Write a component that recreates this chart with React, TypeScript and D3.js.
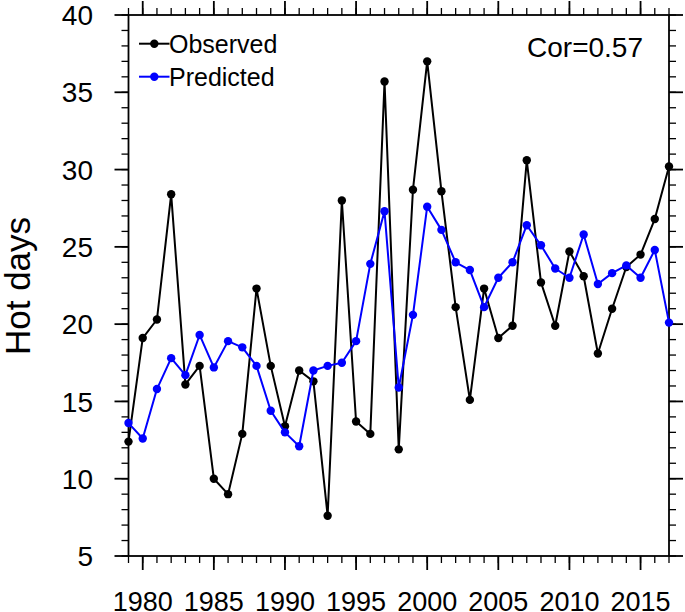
import React from "react";
import * as d3 from "d3";

const years: number[] = d3.range(1979, 2018);
const observed: number[] = [
  12.4, 19.1, 20.3, 28.4, 16.1, 17.3, 10.0, 9.0, 12.9, 22.3,
  17.3, 13.4, 17.0, 16.3, 7.6, 28.0, 13.7, 12.9, 35.7, 11.9,
  28.7, 37.0, 28.6, 21.1, 15.1, 22.3, 19.1, 19.9, 30.6, 22.7,
  19.9, 24.7, 23.1, 18.1, 21.0, 23.7, 24.5, 26.8, 30.2,
];
const predicted: number[] = [
  13.6, 12.6, 15.8, 17.8, 16.7, 19.3, 17.2, 18.9, 18.5, 17.3,
  14.4, 13.0, 12.1, 17.0, 17.3, 17.5, 18.9, 23.9, 27.3, 15.9,
  20.6, 27.6, 26.1, 24.0, 23.5, 21.1, 23.0, 24.0, 26.4, 25.1,
  23.6, 23.0, 25.8, 22.6, 23.3, 23.8, 23.0, 24.8, 20.1,
];
const xMajorTicks: number[] = [1980, 1985, 1990, 1995, 2000, 2005, 2010, 2015];
const yMajorTicks: number[] = [5, 10, 15, 20, 25, 30, 35, 40];
const seriesNames: string[] = ["Observed", "Predicted"];
const seriesColors: string[] = ["#000000", "#0000ff"];
const corText = "Cor=0.57";
const yTitle = "Hot days";

const W = 685;
const H = 612;
const L = 128.5, R = 669, T = 15, B = 556;
const FONT = "'Liberation Sans', Arial, Helvetica, sans-serif";

export default function App() {
  const x = d3.scaleLinear().domain([1979, 2017]).range([L, R]);
  const y = d3.scaleLinear().domain([5, 40]).range([B, T]);
  const xMinor = d3.range(1979, 2018);
  const yMinor = d3.range(5, 41);
  const line = d3
    .line<number>()
    .x((_, i) => x(years[i]))
    .y((d) => y(d));
  const series = [observed, predicted];
  const majLen = 14, minLen = 7;

  return (
    <svg
      width={W}
      height={H}
      style={{ position: "absolute", left: 0, top: 0, background: "#fff" }}
      fontFamily={FONT}
    >
      <rect x={0} y={0} width={W} height={H} fill="#fff" />
      {/* minor ticks */}
      <g stroke="#000" strokeWidth={1.3}>
        {xMinor.map((v) => (
          <g key={"xm" + v}>
            <line x1={x(v)} x2={x(v)} y1={B} y2={B + minLen} />
            <line x1={x(v)} x2={x(v)} y1={T} y2={T - minLen} />
          </g>
        ))}
        {yMinor.map((v) => (
          <g key={"ym" + v}>
            <line x1={L} x2={L - minLen} y1={y(v)} y2={y(v)} />
            <line x1={R} x2={R + minLen} y1={y(v)} y2={y(v)} />
          </g>
        ))}
      </g>
      {/* major ticks */}
      <g stroke="#000" strokeWidth={1.8}>
        {xMajorTicks.map((v) => (
          <g key={"xM" + v}>
            <line x1={x(v)} x2={x(v)} y1={B} y2={B + majLen} />
            <line x1={x(v)} x2={x(v)} y1={T} y2={T - majLen} />
          </g>
        ))}
        {yMajorTicks.map((v) => (
          <g key={"yM" + v}>
            <line x1={L} x2={L - majLen} y1={y(v)} y2={y(v)} />
            <line x1={R} x2={R + majLen} y1={y(v)} y2={y(v)} />
          </g>
        ))}
      </g>
      {/* frame */}
      <rect x={L} y={T} width={R - L} height={B - T} fill="none" stroke="#000" strokeWidth={1.8} />
      {/* tick labels */}
      {xMajorTicks.map((v) => (
        <text key={"xl" + v} x={x(v)} y={611} textAnchor="middle" fontSize={27} fill="#000">
          {v}
        </text>
      ))}
      {yMajorTicks.map((v) => (
        <text key={"yl" + v} x={93} y={y(v)} dy="0.36em" textAnchor="end" fontSize={28} fill="#000">
          {v}
        </text>
      ))}
      <text
        transform={`translate(30,286) rotate(-90)`}
        textAnchor="middle"
        fontSize={35}
        fill="#000"
      >
        {yTitle}
      </text>
      {/* series */}
      {series.map((s, k) => (
        <g key={"s" + k}>
          <path d={line(s) || ""} fill="none" stroke={seriesColors[k]} strokeWidth={2} strokeLinejoin="round" />
          {s.map((v, i) => (
            <circle key={i} cx={x(years[i])} cy={y(v)} r={4.2} fill={seriesColors[k]} />
          ))}
        </g>
      ))}
      {/* legend */}
      {seriesNames.map((name, k) => {
        const ly = 43.7 + k * 33;
        return (
          <g key={"lg" + k}>
            <line x1={139} x2={169.5} y1={ly} y2={ly} stroke={seriesColors[k]} strokeWidth={2} />
            <circle cx={154.3} cy={ly} r={4.2} fill={seriesColors[k]} />
            <text x={169} y={ly} dy="0.36em" fontSize={25} fill="#000">
              {name}
            </text>
          </g>
        );
      })}
      <text x={643} y={57} textAnchor="end" fontSize={28} fill="#000">
        {corText}
      </text>
    </svg>
  );
}
